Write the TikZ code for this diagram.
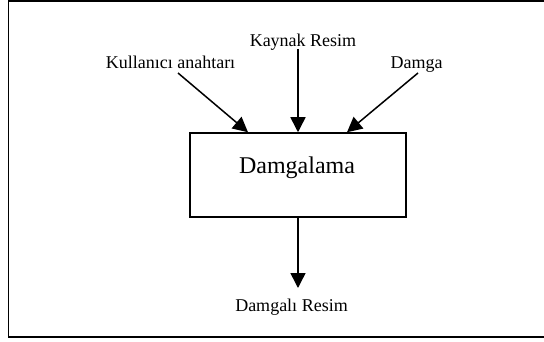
\documentclass[tikz,border=0pt]{standalone}
\usepackage{fontspec}
\setmainfont{Liberation Serif}
\usetikzlibrary{arrows.meta}
\tikzset{
  lbl/.style={anchor=base, inner sep=0pt, font=\fontsize{18}{20}\selectfont},
  flow/.style={line width=1.5pt, -{Triangle[length=15pt,width=15pt]}},
  boxst/.style={draw, line width=1.5pt, minimum width=216pt, minimum height=84pt, inner sep=0pt}
}
\begin{document}
\begin{tikzpicture}[x=1pt,y=-1pt]
\useasboundingbox (0,0) rectangle (544,342);
\draw[line width=1.3pt] (545,1) -- (8.5,1) -- (8.5,337) -- (545,337);
\node[boxst] (box) at (298,175) {};
\node[anchor=base, inner sep=0pt, font=\fontsize{24}{28}\selectfont] (boxtext) at (297,174) {Damgalama};
\node[lbl] (kaynak) at (303,47) {Kaynak Resim};
\node[lbl] (kullanici) at (170.5,69) {Kullanıcı anahtarı};
\node[lbl] (damga) at (416.5,69) {Damga};
\node[lbl] (damgali) at (291.5,311) {Damgalı Resim};
\coordinate (s1) at (178,73);
\coordinate (s2) at (298,49);
\coordinate (s3) at (418,73);
\coordinate (e4) at (298,288);
\draw[flow] (s1) -- ([xshift=-50pt]box.north);
\draw[flow] (s2) -- (box.north);
\draw[flow] (s3) -- ([xshift=49pt]box.north);
\draw[flow] (box.south) -- (e4);
\end{tikzpicture}
\end{document}
